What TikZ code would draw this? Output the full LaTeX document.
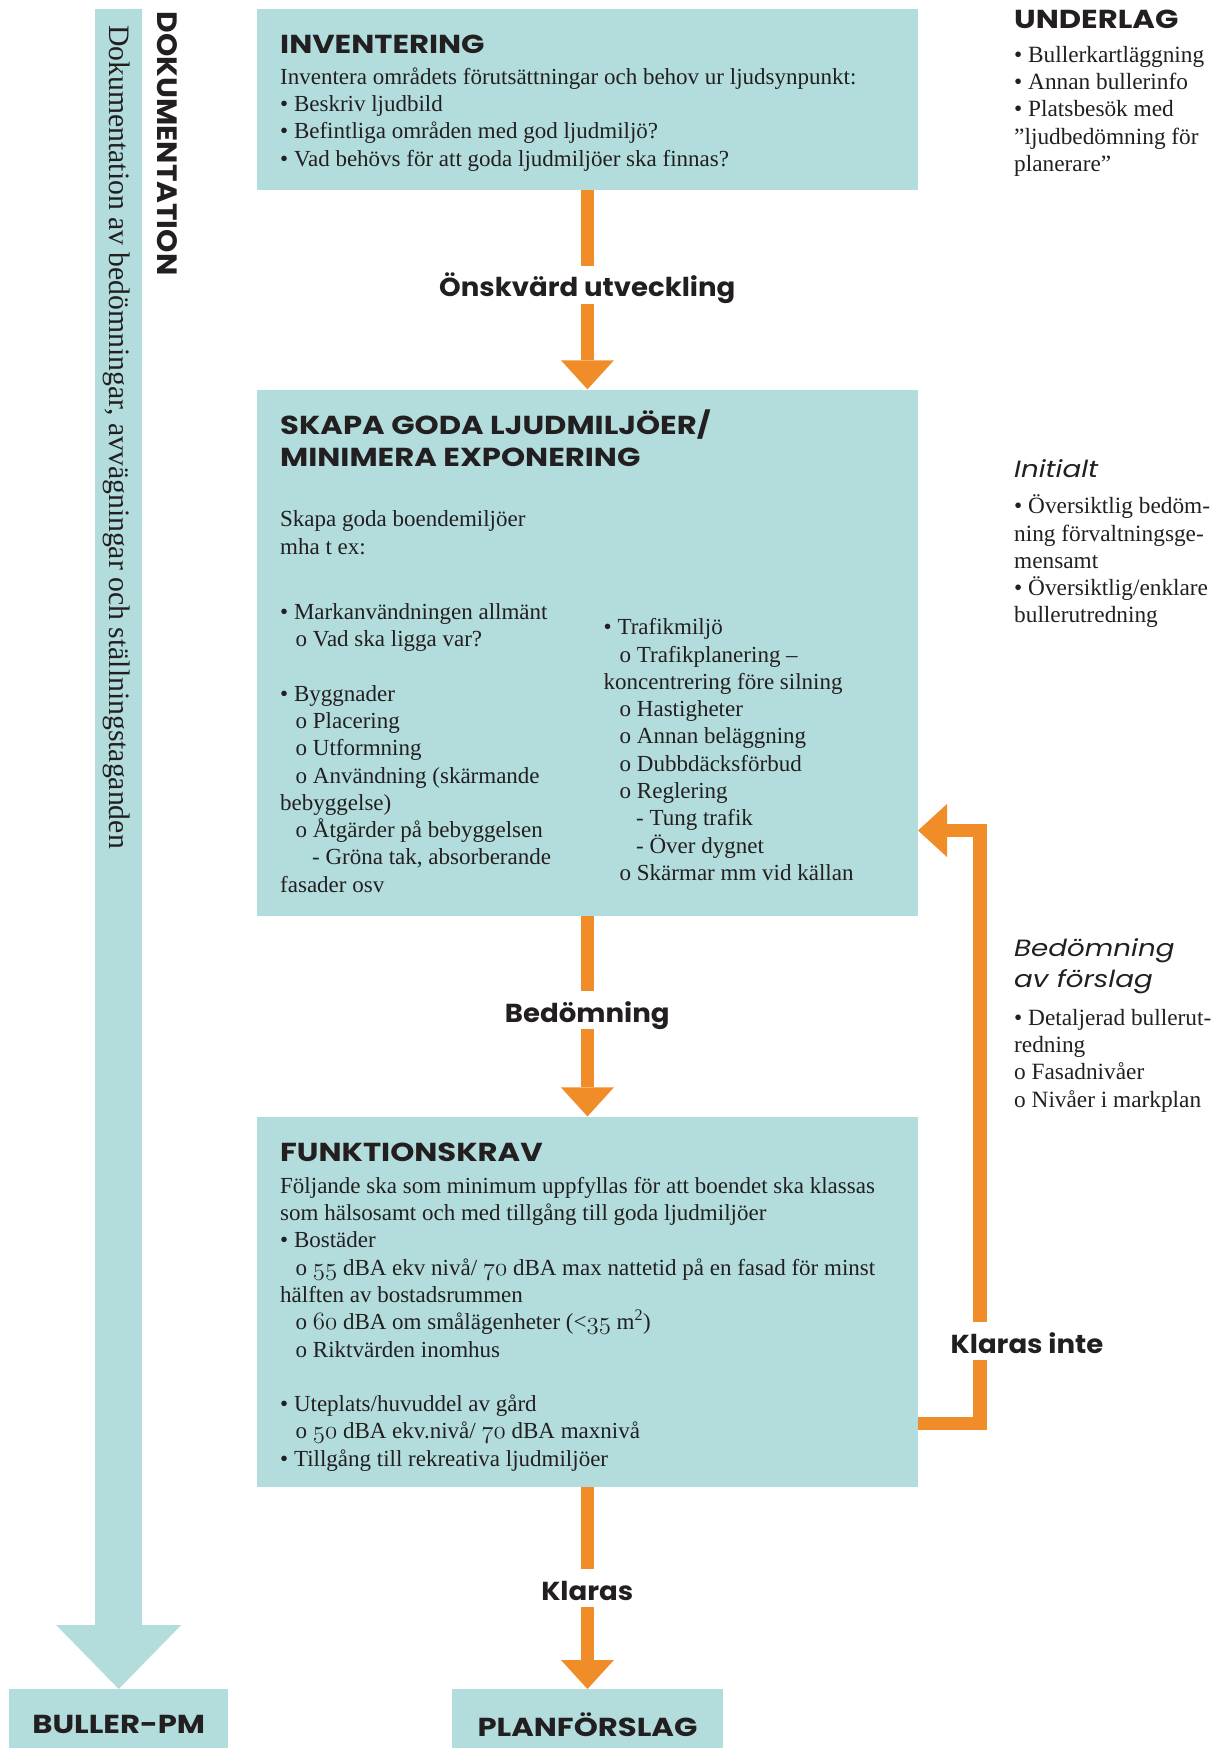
\documentclass[tikz,border=0pt]{standalone}
\usepackage{fontspec}
\setmainfont{Liberation Serif}
\newfontfamily\hwide{Poppins}[FakeStretch=1.18]
\newfontfamily\hmid{Poppins}[FakeStretch=1.06]
\usetikzlibrary{arrows.meta}
\definecolor{boxteal}{RGB}{178,221,220}
\definecolor{arrorange}{RGB}{241,141,41}
\definecolor{ink}{RGB}{35,31,32}
\newcommand\osn[1]{{\fontencoding{OML}\fontfamily{cmm}\fontseries{m}\fontshape{it}\selectfont #1}}
\newcommand\fl{\rule{0pt}{28pt}}
\begin{document}
\begin{tikzpicture}[x=1pt,y=-1pt,
  box/.style={fill=boxteal, draw=none, anchor=north west, inner sep=0pt},
  body/.style={anchor=north west, inner sep=0pt, align=left, text=ink, font=\fontsize{23}{27.3}\selectfont},
  side/.style={body, font=\fontsize{23.3}{27.3}\selectfont},
  head/.style={anchor=north west, inner sep=0pt, align=left, text=ink, font=\hwide\bfseries\fontsize{26}{32}\selectfont},
  sideit/.style={head, font=\hwide\itshape\fontsize{23.5}{31}\selectfont},
  flow/.style={draw=arrorange, line width=13.4pt, -{Triangle[width=53pt,length=29pt,line width=0pt]}},
  lab/.style={fill=white, text=ink, anchor=base, font=\hmid\bfseries\fontsize{26}{30}\selectfont, inner xsep=3pt, inner ysep=0pt, text height=31pt, text depth=7pt},
  endbox/.style={box, minimum height=70pt, text=ink, font=\hwide\bfseries\fontsize{26}{30}\selectfont},
]
\useasboundingbox (0,0) rectangle (1219,1748);
\fill[white] (0,0) rectangle (1219,1748);

% boxes
\node[box, minimum width=661.5pt, minimum height=181pt] (inv) at (256.5,9) {};
\node[box, minimum width=661.5pt, minimum height=526.3pt] (skapa) at (256.5,389.3) {};
\node[box, minimum width=661.5pt, minimum height=370.3pt] (funk) at (256.5,1116.4) {};
\node[endbox, minimum width=219pt] (bpm) at (9,1689) {BULLER-PM};
\node[endbox, minimum width=271pt] (plan) at (451.75,1689) {PLANFÖRSLAG};

% documentation arrow
\coordinate (docTop) at (118.5,9);
\draw[draw=boxteal, line width=47pt, -{Triangle[width=125pt,length=64pt,line width=0pt]}] (docTop) -- (bpm.north);

% flow connectors
\draw[flow] (inv.south) -- (skapa.north);
\draw[flow] (skapa.south) -- (funk.north);
\draw[flow] (funk.south) -- (plan.north);
\coordinate (fbS) at (918,1423.5);
\coordinate (fbT) at (980,830.5);
\coordinate (fbE) at (918,830.5);
\draw[flow, line join=miter] (fbS) -| (fbT) -- (fbE);

% connector labels
\node[lab] (l1) at (587.25,296.7) {Önskvärd utveckling};
\node[lab] (l2) at (587.25,1022) {Bedömning};
\node[lab] (l3) at (587.25,1600) {Klaras};
\node[lab] (l4) at (1027,1353) {Klaras inte};

% documentation texts
\node[rotate=-90, anchor=base west, inner sep=0pt, text=ink, font=\fontsize{29.7}{30}\selectfont] (docT) at (109,25) {Dokumentation av bedömningar, avvägningar och ställningstaganden};
\node[rotate=-90, anchor=base west, inner sep=0pt, text=ink, font=\hmid\bfseries\fontsize{28}{30}\selectfont] (docH) at (157,11.7) {DOKUMENTATION};

% INVENTERING
\node[head] (invH) at (280,25.5) {\fl INVENTERING};
\node[body] (invB) at (280,56) {\fl Inventera områdets förutsättningar och behov ur ljudsynpunkt:\\
• Beskriv ljudbild\\
• Befintliga områden med god ljudmiljö?\\
• Vad behövs för att goda ljudmiljöer ska finnas?};

% SKAPA
\node[head] (skapaH) at (280,406.5) {\fl SKAPA GODA LJUDMILJÖER/\\MINIMERA EXPONERING};
\node[body] (skapaI) at (280,498.5) {\fl Skapa goda boendemiljöer\\mha t ex:};
\node[body] (skapaL) at (280,591) {\fl • Markanvändningen allmänt\\
\hspace*{15.5pt}o Vad ska ligga var?\\[27.3pt]
• Byggnader\\
\hspace*{15.5pt}o Placering\\
\hspace*{15.5pt}o Utformning\\
\hspace*{15.5pt}o Användning (skärmande\\
bebyggelse)\\
\hspace*{15.5pt}o Åtgärder på bebyggelsen\\
\hspace*{32pt}- Gröna tak, absorberande\\
fasader osv};
\node[body] (skapaR) at (603.5,606.5) {\fl • Trafikmiljö\\
\hspace*{16pt}o Trafikplanering –\\
koncentrering före silning\\
\hspace*{16pt}o Hastigheter\\
\hspace*{16pt}o Annan beläggning\\
\hspace*{16pt}o Dubbdäcksförbud\\
\hspace*{16pt}o Reglering\\
\hspace*{32.5pt}- Tung trafik\\
\hspace*{32.5pt}- Över dygnet\\
\hspace*{16pt}o Skärmar mm vid källan};

% FUNKTIONSKRAV
\node[head] (funkH) at (280,1133.5) {\fl FUNKTIONSKRAV};
\node[body] (funkB) at (280,1165) {\fl Följande ska som minimum uppfyllas för att boendet ska klassas\\
som hälsosamt och med tillgång till goda ljudmiljöer\\
• Bostäder\\
\hspace*{15.5pt}o \osn{55} dBA ekv nivå/ \osn{70} dBA max nattetid på en fasad för minst\\
hälften av bostadsrummen\\
\hspace*{15.5pt}o \osn{60} dBA om smålägenheter (<\osn{35} m\textsuperscript{2})\\
\hspace*{15.5pt}o Riktvärden inomhus\\[27.3pt]
• Uteplats/huvuddel av gård\\
\hspace*{15.5pt}o \osn{50} dBA ekv.nivå/ \osn{70} dBA maxnivå\\
• Tillgång till rekreativa ljudmiljöer};

% right column
\node[head] (undH) at (1014,0.5) {\fl UNDERLAG};
\node[side] (undB) at (1014,34) {\fl • Bullerkartläggning\\
• Annan bullerinfo\\
• Platsbesök med\\
”ljudbedömning för\\
planerare”};
\node[sideit] (initH) at (1014,449) {\fl Initialt};
\node[side] (initB) at (1014,485.5) {\fl • Översiktlig bedöm-\\
ning förvaltningsge-\\
mensamt\\
• Översiktlig/enklare\\
bullerutredning};
\node[sideit] (bedH) at (1014,928) {\fl Bedömning\\av förslag};
\node[side] (bedB) at (1014,997) {\fl • Detaljerad bullerut-\\
redning\\
o Fasadnivåer\\
o Nivåer i markplan};
\end{tikzpicture}
\end{document}
